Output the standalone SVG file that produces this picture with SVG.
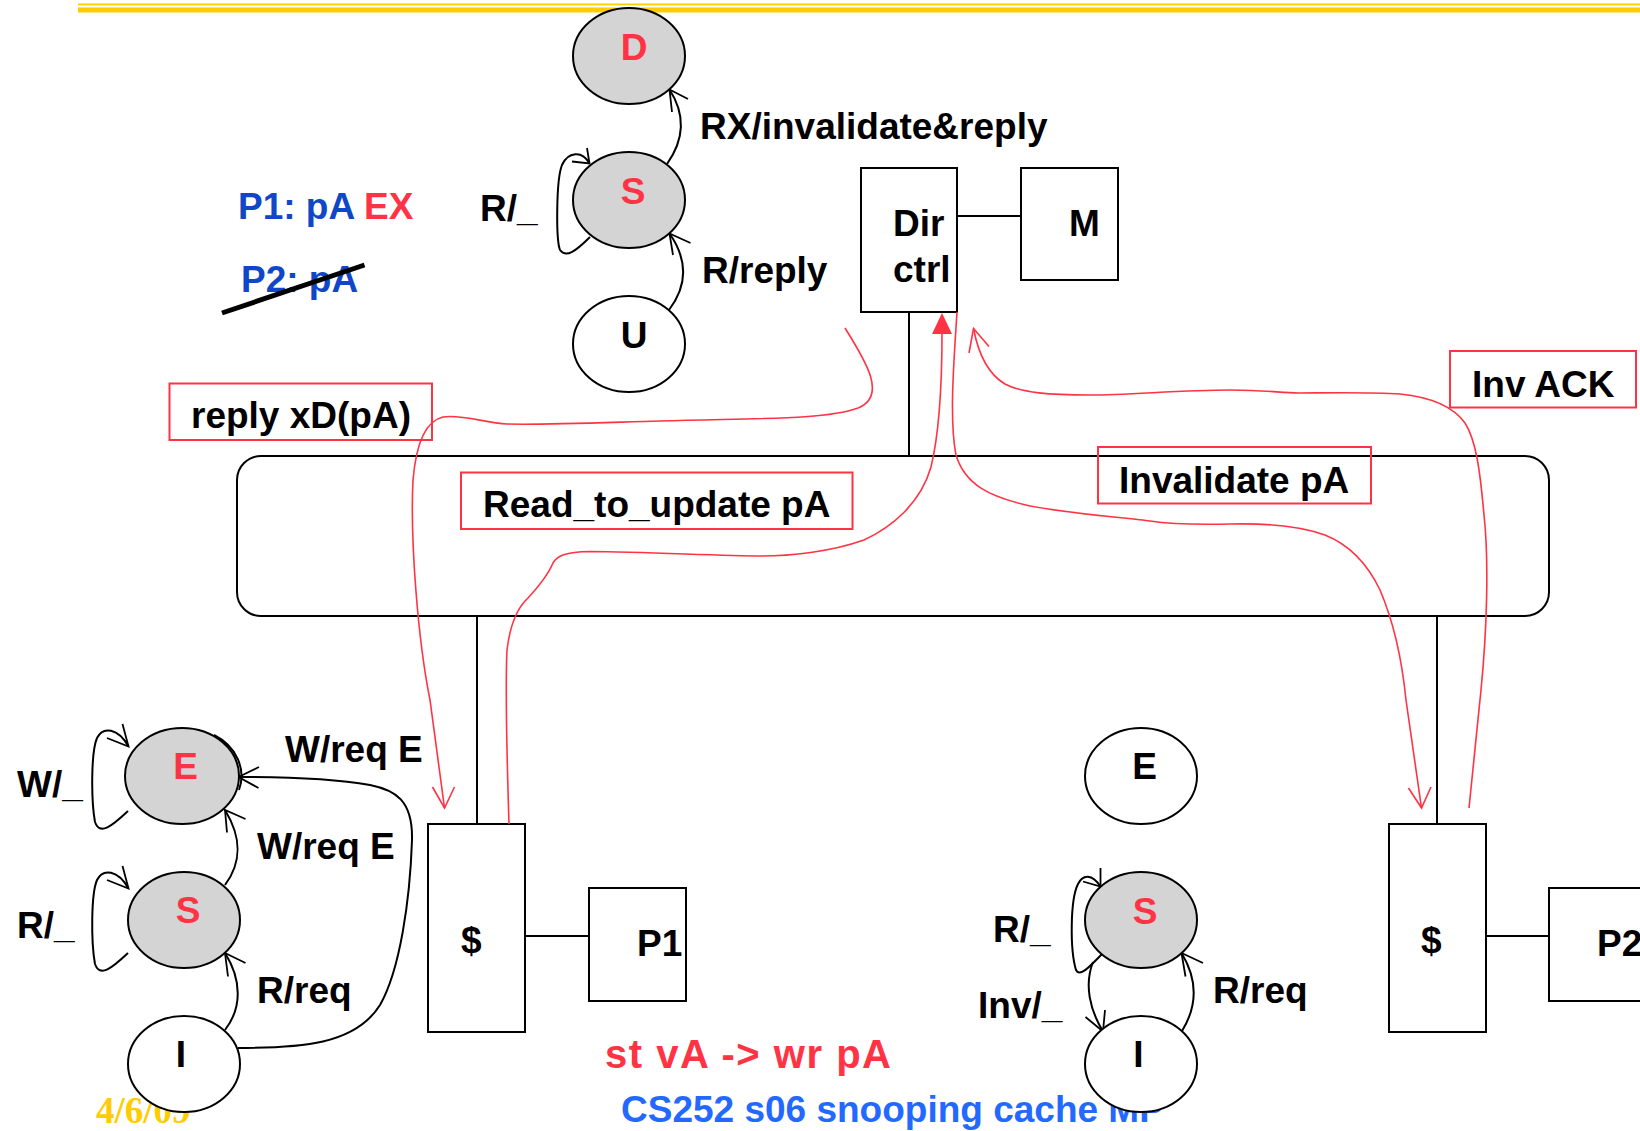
<svg xmlns="http://www.w3.org/2000/svg" width="1640" height="1131" viewBox="0 0 1640 1131">
<style>
.t{font-family:"Liberation Sans",Arial,sans-serif;font-weight:bold;font-size:37px;fill:#000}
.red{fill:#FF3344}
.blue{fill:#0F47C8}
.c{text-anchor:middle}
.ln{fill:none;stroke:#000;stroke-width:2}
.box{fill:#fff;stroke:#000;stroke-width:2}
.st{stroke:#000;stroke-width:2}
.g{fill:#D4D4D4}
.w{fill:#fff}
.ah{fill:none;stroke:#000;stroke-width:1.8}
.rc{fill:none;stroke:#FF3344;stroke-width:1.6}
.rb{fill:none;stroke:#FF3344;stroke-width:2}
</style>
<rect width="1640" height="1131" fill="#fff"/>
<g id="header">
<rect x="78" y="3.5" width="1562" height="1.8" fill="#FFCC00"/>
<rect x="78" y="7.5" width="1562" height="5" fill="#FFCC00"/>
</g>
<g id="bus"><rect x="237" y="456" width="1312" height="160" rx="24" ry="24" class="ln"/></g>
<g id="connectors">
<path class="ln" d="M909,312 V456"/>
<path class="ln" d="M957,216 H1021"/>
<path class="ln" d="M477,616 V824"/>
<path class="ln" d="M525,936 H589"/>
<path class="ln" d="M1437,616 V824"/>
<path class="ln" d="M1486,936 H1549"/>
</g>
<g id="dirctrl"><rect x="861" y="168" width="96" height="144" class="box"/><text class="t" x="893" y="236">Dir</text><text class="t" x="893" y="282">ctrl</text></g>
<g id="mem"><rect x="1021" y="168" width="97" height="112" class="box"/><text class="t" x="1069" y="236">M</text></g>
<g id="cache1"><rect x="428" y="824" width="97" height="208" class="box"/><text class="t" x="461" y="953">$</text></g>
<g id="p1"><rect x="589" y="888" width="97" height="113" class="box"/><text class="t" x="637" y="956">P1</text></g>
<g id="cache2"><rect x="1389" y="824" width="97" height="208" class="box"/><text class="t" x="1421" y="953">$</text></g>
<g id="p2"><rect x="1549" y="888" width="97" height="113" class="box"/><text class="t" x="1597" y="956">P2</text></g>

<g id="msg-labels">
<rect x="169.5" y="383.5" width="262.5" height="56.5" class="rb"/><text class="t" x="191" y="428">reply xD(pA)</text>
<rect x="461" y="472.5" width="391.5" height="56.5" class="rb"/><text class="t" x="483" y="517">Read_to_update pA</text>
<rect x="1098" y="447" width="273" height="56.5" class="rb"/><text class="t" x="1119" y="493">Invalidate pA</text>
<rect x="1450" y="351" width="186" height="56.5" class="rb"/><text class="t" x="1472" y="397">Inv ACK</text>
</g>

<g id="messages">
<path class="rc" d="M845,328 C865,360 888,396 858,408 C825,420 760,418 660,421 C590,423 540,425 507,424 C485,423 462,414 443,417 C425,421 416,445 413,480 C410,540 418,640 430,700 L444.5,808"/>
<path class="rc" d="M432.5,787 L444.5,808 L454.5,787"/>
<path class="rc" d="M509,824 C507,760 505,690 507,650 C510,625 517,608 528,598 C540,585 548,575 553,563 C557,556 565,552 590,551.5 C650,552 720,556 762,556 C790,556 830,552 864,540 C890,528 920,505 931,467 C940,430 942,380 942,333"/>
<path d="M942,313 L932,334 L952,334 Z" fill="#FF3344"/>
<path class="rc" d="M957,312 C954,360 949,420 956,455 C965,485 990,497 1030,506 C1080,515 1130,518 1150,521 C1170,524 1190,525 1230,524 C1270,523 1300,526 1325,535 C1350,545 1368,565 1380,590 C1395,625 1402,660 1406,700 L1421.5,808"/>
<path class="rc" d="M1408.5,788 L1421.5,808 L1431,787"/>
<path class="rc" d="M1469,808 L1481,690 C1487,630 1489,560 1484,515 C1480,470 1476,440 1465,423 C1452,405 1430,397 1400,394 C1370,392 1320,393 1299,393 C1280,393 1268,390 1230,390 C1180,390 1130,395 1090,395 C1050,395 1022,393 1005,384 C988,374 978,352 973.5,328.5"/>
<path class="rc" d="M969,353 L973.5,328.5 L989,346.5"/>
</g>

<g id="notes">
<text class="t blue" x="238" y="219">P1: pA <tspan class="red">EX</tspan></text>
<text class="t blue" x="241" y="292">P2: pA</text>
<line x1="222" y1="313" x2="364.5" y2="265" stroke="#000" stroke-width="5"/>
<text class="t red" x="605" y="1068" style="font-size:40px" textLength="286" lengthAdjust="spacing">st vA -&gt; wr pA</text>
<text class="t" x="621" y="1122" style="fill:#2469FF">CS252 s06 snooping cache MP</text>
<text x="96" y="1123" style="font-family:'Liberation Serif','Times New Roman',serif;font-weight:bold;font-size:37px;fill:#FFCC00">4/6/09</text>
</g>

<g id="dir-fsm-edges">
<path class="ln" d="M667,164 C684,140 686,115 669.5,89.5"/>
<path class="ah" d="M672,112 L669.5,89.5 L688,99"/>
<path class="ln" d="M669,310 C688,285 688,260 669.5,233.5"/>
<path class="ah" d="M673,255 L669.5,233.5 L690.5,243"/>
<path class="ln" d="M590,237 C575,252 566,258 560,250 C556,240 556,180 562,165 C568,152 582,150 589.5,163.5"/>
<path class="ah" d="M587,148 L589.5,163.5 L572,161.5"/>
<text class="t" x="700" y="139">RX/invalidate&amp;reply</text>
<text class="t" x="702" y="283">R/reply</text>
<text class="t" x="480" y="221">R/_</text>
</g>
<g id="dir-D"><ellipse cx="629" cy="56" rx="56" ry="48" class="st g"/><text class="t red c" x="634" y="60">D</text></g>
<g id="dir-S"><ellipse cx="629" cy="200" rx="56" ry="48" class="st g"/><text class="t red c" x="633" y="204">S</text></g>
<g id="dir-U"><ellipse cx="629" cy="344" rx="56" ry="48" class="st w"/><text class="t c" x="634" y="348">U</text></g>

<g id="p1-fsm-edges">
<path class="ln" d="M128,811 C112,826 100,836 95,822 C91,800 91,752 97,738 C103,726 118,728 128.5,746.5"/>
<path class="ah" d="M122.5,724 L128.5,746.5 L107,738"/>
<path class="ln" d="M128,953 C112,968 100,978 95,964 C91,942 91,894 97,880 C103,868 118,870 128.5,888.5"/>
<path class="ah" d="M122.5,866 L128.5,888.5 L107,880"/>
<path class="ln" d="M225,885 C242,862 242,838 225,810"/>
<path class="ah" d="M227,832.5 L225,810 L245.5,819"/>
<path class="ln" d="M225,1030 C242,1008 242,980 225,953"/>
<path class="ah" d="M228,976.5 L225,953 L245.5,963"/>
<path class="ln" d="M238,1048 C300,1048 355,1045 380,1005 C400,970 410,900 412,840 C413,800 395,790 370,785 C330,778 280,777 239,777"/>
<path class="ah" d="M259,767 L238.5,777 L258.5,788"/>
<text class="t" x="17" y="797">W/_</text>
<text class="t" x="17" y="938">R/_</text>
<text class="t" x="285" y="762">W/req E</text>
<text class="t" x="257" y="859">W/req E</text>
<text class="t" x="257" y="1003">R/req</text>
</g>
<g id="p1-E"><ellipse cx="182" cy="776" rx="57" ry="48" class="st g"/><path class="ln" d="M212,735 A57,48 0 0 1 237,790" transform="translate(2,0)"/><text class="t red c" x="185.5" y="779">E</text></g>
<g id="p1-S"><ellipse cx="184" cy="920" rx="56" ry="48" class="st g"/><text class="t red c" x="188" y="923">S</text></g>
<g id="p1-I"><ellipse cx="184" cy="1064" rx="56" ry="48" class="st w"/><text class="t c" x="181" y="1067">I</text></g>

<g id="p2-fsm-edges">
<path class="ln" d="M1103,953 C1090,966 1080,978 1076,970 C1070,950 1070,900 1078,884 C1083,874 1092,874 1100.5,886.5"/>
<path class="ah" d="M1100.5,868 L1100.5,886.5 L1083,881.5"/>
<path class="ln" d="M1093,962 C1084,985 1090,1010 1103,1031.5"/>
<path class="ah" d="M1105,1010 L1103,1031.5 L1085.5,1017"/>
<path class="ln" d="M1182,1031 C1198,1005 1198,980 1181.5,953"/>
<path class="ah" d="M1185.5,976.5 L1181.5,953 L1203,963"/>
<text class="t" x="993" y="942">R/_</text>
<text class="t" x="978" y="1018">Inv/_</text>
<text class="t" x="1213" y="1003">R/req</text>
</g>
<g id="p2-E"><ellipse cx="1141" cy="776" rx="56" ry="48" class="st w"/><text class="t c" x="1144.5" y="779">E</text></g>
<g id="p2-S"><ellipse cx="1141" cy="920" rx="56" ry="48" class="st g"/><text class="t red c" x="1145" y="924">S</text></g>
<g id="p2-I"><ellipse cx="1141" cy="1064" rx="56" ry="48" class="st w"/><text class="t c" x="1138.5" y="1067">I</text></g>
</svg>
